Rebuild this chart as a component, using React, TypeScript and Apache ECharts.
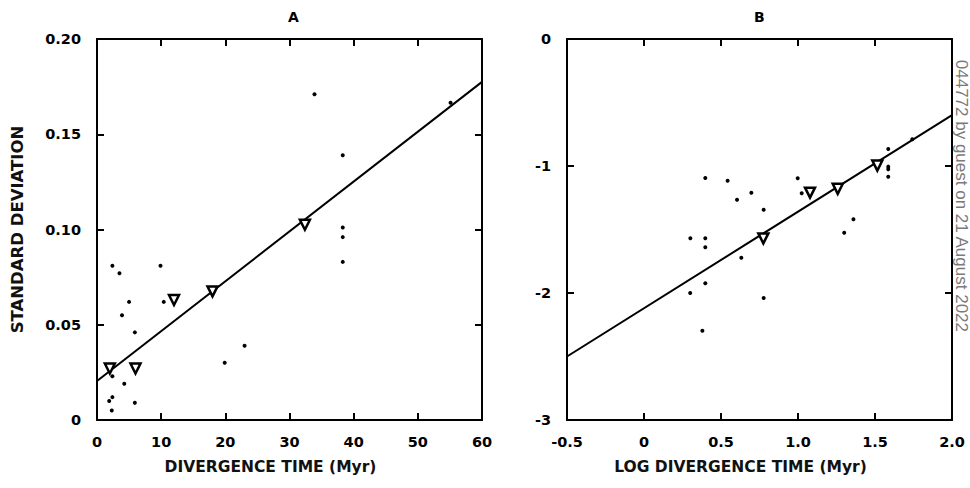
import React, { useEffect, useRef } from "react";
import * as echarts from "echarts";

// Panel A: divergence time (Myr) vs standard deviation
const aDotX = [2.4, 3.5, 9.9, 5.0, 10.4, 3.9, 5.9, 2.4, 4.25, 2.4, 1.9, 5.9, 2.3, 19.9, 23.0, 38.3, 38.3, 38.3, 38.3, 55.1, 33.9];
const aDotY = [0.081, 0.077, 0.081, 0.062, 0.062, 0.055, 0.046, 0.023, 0.019, 0.012, 0.010, 0.009, 0.005, 0.030, 0.039, 0.139, 0.101, 0.096, 0.083, 0.1665, 0.171];
const aTriX = [2.0, 6.0, 12.0, 18.0, 32.4];
const aTriY = [0.027, 0.027, 0.063, 0.0675, 0.1025];
const aLineX = [0, 60];
const aLineY = [0.0205, 0.1775];
const aXTicks = [0, 10, 20, 30, 40, 50, 60];
const aYTicks = [0, 0.05, 0.1, 0.15, 0.2];

// Panel B: log divergence time vs log standard deviation
const bDotX = [0.398, 0.543, 0.604, 0.697, 0.777, 0.301, 0.398, 0.398, 0.632, 0.398, 0.30, 0.777, 0.379, 0.998, 1.024, 1.36, 1.30, 1.586, 1.586, 1.586, 1.586, 1.742];
const bDotY = [-1.094, -1.116, -1.265, -1.21, -1.344, -1.569, -1.569, -1.64, -1.722, -1.924, -2.0, -2.04, -2.297, -1.097, -1.215, -1.42, -1.525, -0.866, -1.005, -1.026, -1.084, -0.79];
const bTriX = [0.775, 1.078, 1.258, 1.515];
const bTriY = [-1.57, -1.21, -1.18, -0.997];
const bLineX = [-0.5, 2.0];
const bLineY = [-2.5, -0.6];
const bXTicks = [-0.5, 0, 0.5, 1.0, 1.5, 2.0];
const bYTicks = [0, -1, -2, -3];

const FONT = "DejaVu Sans, Liberation Sans, Arial, sans-serif";
const WM_FONT = "Liberation Sans, Arial, sans-serif";

const zip = (xs: number[], ys: number[]) => xs.map((x, i) => [x, ys[i]]);

function fmtA_Y(v: number) {
  if (Math.abs(v) < 1e-9) return "0";
  return v.toFixed(2);
}
function fmtB_X(v: number) {
  if (Math.abs(v) < 1e-9) return "0";
  return v.toFixed(1);
}

export default function App() {
  const ref = useRef<HTMLDivElement>(null);
  useEffect(() => {
    if (!ref.current) return;
    const chart = echarts.init(ref.current, null, { renderer: "svg" });
    const tickStyle = { inside: true, length: 7, lineStyle: { color: "#000", width: 2 } };
    const lineStyle = { show: true, onZero: false, lineStyle: { color: "#000", width: 2 } };
    const labelStyle = { color: "#000", fontFamily: FONT, fontWeight: "bold" as const, fontSize: 14.5 };
    const nameStyle = {
      color: "#111", fontFamily: FONT, fontWeight: "bold" as const, fontSize: 15.5,
      padding: [0, 38, 0, 0],
    };

    const mkX = (grid: number, min: number, max: number, interval: number, name: string, fmt: (v: number) => string) => [
      {
        type: "value", gridIndex: grid, min, max, interval, position: "bottom",
        axisLine: lineStyle, axisTick: tickStyle, splitLine: { show: false },
        axisLabel: { ...labelStyle, margin: 14, formatter: fmt },
        name, nameLocation: "middle", nameGap: 39, nameTextStyle: nameStyle,
      },
      {
        type: "value", gridIndex: grid, min, max, interval, position: "top",
        axisLine: lineStyle, axisTick: tickStyle, splitLine: { show: false },
        axisLabel: { show: false },
      },
    ];
    const mkY = (grid: number, min: number, max: number, interval: number, name: string, fmt: (v: number) => string) => [
      {
        type: "value", gridIndex: grid, min, max, interval, position: "left",
        axisLine: lineStyle, axisTick: tickStyle, splitLine: { show: false },
        axisLabel: { ...labelStyle, margin: 16, formatter: fmt },
        name, nameLocation: "middle", nameGap: 71,
        nameTextStyle: { color: "#111", fontFamily: FONT, fontWeight: "bold" as const, fontSize: 16.5 },
      },
      {
        type: "value", gridIndex: grid, min, max, interval, position: "right",
        axisLine: lineStyle, axisTick: tickStyle, splitLine: { show: false },
        axisLabel: { show: false },
      },
    ];

    const dot = (xi: number, yi: number, data: number[][]) => ({
      type: "scatter", xAxisIndex: xi, yAxisIndex: yi, data,
      symbol: "circle", symbolSize: 4, itemStyle: { color: "#000", opacity: 1 }, z: 3,
    });
    const tri = (xi: number, yi: number, data: number[][]) => ({
      type: "scatter", xAxisIndex: xi, yAxisIndex: yi, data,
      symbol: "triangle", symbolRotate: 180, symbolSize: 10,
      itemStyle: { color: "#fff", borderColor: "#000", borderWidth: 2.5, opacity: 1 }, z: 4,
    });
    const fit = (xi: number, yi: number, data: number[][]) => ({
      type: "line", xAxisIndex: xi, yAxisIndex: yi, data, showSymbol: false,
      lineStyle: { color: "#000", width: 2 }, z: 2,
    });

    chart.setOption({
      animation: false,
      backgroundColor: "#fff",
      title: [
        { text: "A", left: 283, top: 5, textStyle: { fontFamily: FONT, fontWeight: "bold", fontSize: 14, color: "#000" } },
        { text: "B", left: 749, top: 5, textStyle: { fontFamily: FONT, fontWeight: "bold", fontSize: 14, color: "#000" } },
      ],
      grid: [
        { left: 97, top: 39, width: 385, height: 381, show: false },
        { left: 567, top: 39, width: 385, height: 381, show: false },
      ],
      xAxis: [
        ...mkX(0, aXTicks[0], aXTicks[aXTicks.length - 1], 10, "DIVERGENCE TIME (Myr)", (v: number) => String(v)),
        ...mkX(1, bXTicks[0], bXTicks[bXTicks.length - 1], 0.5, "LOG DIVERGENCE TIME (Myr)", fmtB_X),
      ],
      yAxis: [
        ...mkY(0, aYTicks[0], aYTicks[aYTicks.length - 1], 0.05, "STANDARD DEVIATION", fmtA_Y),
        ...mkY(1, bYTicks[bYTicks.length - 1], bYTicks[0], 1, "", (v: number) => String(v)),
      ],
      graphic: [
        {
          type: "text", x: 961.5, y: 332, rotation: -Math.PI / 2,
          style: {
            text: "044772 by guest on 21 August 2022",
            fill: "#7a7a7a", fontFamily: WM_FONT, fontSize: 17,
            textAlign: "right", textVerticalAlign: "middle",
          },
        },
      ],
      series: [
        fit(0, 0, zip(aLineX, aLineY)),
        dot(0, 0, zip(aDotX, aDotY)),
        tri(0, 0, zip(aTriX, aTriY)),
        fit(2, 2, zip(bLineX, bLineY)),
        dot(2, 2, zip(bDotX, bDotY)),
        tri(2, 2, zip(bTriX, bTriY)),
      ],
    });
    return () => chart.dispose();
  }, []);
  return (
    <div
      ref={ref}
      style={{ position: "fixed", left: 0, top: 0, width: 970, height: 488, background: "#fff" }}
    />
  );
}
